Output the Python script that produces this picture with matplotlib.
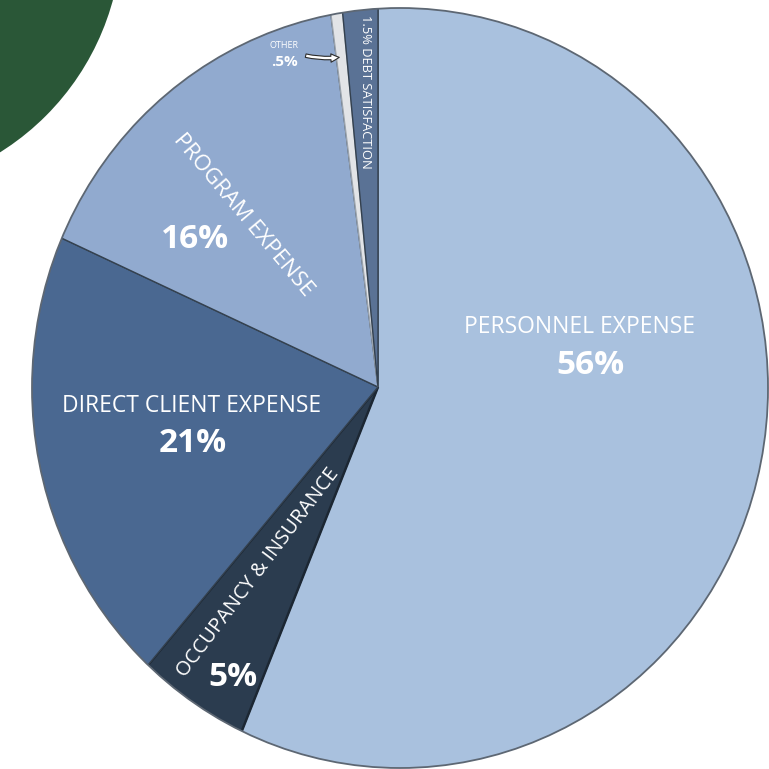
import numpy as np
import matplotlib.pyplot as plt
from matplotlib.patches import Ellipse, Circle

# Répartition des dépenses (%), dans le sens horaire depuis le haut
categories = ['Personnel Expense', 'Occupancy & Insurance', 'Direct Client Expense',
              'Program Expense', 'Other', 'Debt Satisfaction']
values = [56, 5, 21, 16, 0.5, 1.5]
pct_labels = ['56%', '5%', '21%', '16%', '.5%', '1.5%']
colors = ['#a9c1de', '#2b3c4f', '#4a6891', '#91aacf', '#e2e4e7', '#5a7295']

W = H = 769


def py(y):
    # pixel (haut -> bas) vers coordonnées données
    return H - y


fig = plt.figure(figsize=(7.69, 7.69), dpi=100)
ax = fig.add_axes([0, 0, 1, 1])

# Cercle vert décoratif dans le coin
ax.add_patch(Circle((-138, py(-68)), 260, facecolor='#2a5737', edgecolor='none', zorder=0))

wedges, _ = ax.pie(values, colors=colors, startangle=90, counterclock=False,
                   center=(378, py(387)), radius=430,
                   wedgeprops=dict(edgecolor='#34414f', linewidth=1.0))

# Contour elliptique du camembert (le sommet des parts n'est pas au centre)
clip = Ellipse((400, py(388)), 736, 760, facecolor='none', edgecolor='none')
ax.add_patch(clip)
for w in wedges:
    w.set_clip_on(True)
    w.set_clip_path(clip)
wedges[4].set_edgecolor('#9aa3ad')
wedges[1].set_edgecolor('#1c2733')
wedges[1].set_linewidth(1.8)

ax.add_patch(Ellipse((400, py(388)), 736, 760, facecolor='none',
                     edgecolor='#5d6773', linewidth=1.3, zorder=5))

ax.set_xlim(0, W)
ax.set_ylim(0, H)
ax.set_aspect('auto')
ax.axis('off')

txt = dict(color='white', ha='center', va='center', family=['Open Sans', 'DejaVu Sans'],
           rotation_mode='anchor')

# Personnel
ax.text(579, py(327), categories[0].upper(), fontsize=16.5, **txt)
ax.text(590, py(366), pct_labels[0], fontsize=24, fontweight='bold', **txt)

# Direct Client
ax.text(192, py(406), categories[2].upper(), fontsize=16.5, **txt)
ax.text(193, py(444), pct_labels[2], fontsize=24, fontweight='bold', **txt)

# Program
ax.text(243, py(215), categories[3].upper(), fontsize=16, rotation=-50, **txt)
ax.text(195, py(239), pct_labels[3], fontsize=24, fontweight='bold', **txt)

# Occupancy
ax.text(258, py(573), categories[1].upper(), fontsize=14.5, rotation=53, **txt)
ax.text(233, py(677), pct_labels[1], fontsize=24, fontweight='bold', **txt)

# Debt satisfaction (vertical)
ax.text(366, py(92), pct_labels[5] + ' ' + categories[5].upper(), fontsize=9.3,
        rotation=-90, **txt)

# Other + flèche
ax.text(284, py(45), categories[4].upper(), fontsize=6.5, **txt)
ax.text(284, py(62), pct_labels[4], fontsize=11, fontweight='bold', **txt)
ax.annotate('', xy=(342, py(57)), xytext=(303, py(55)),
            arrowprops=dict(arrowstyle='simple,head_length=0.6,head_width=0.6,tail_width=0.25',
                            facecolor='white', edgecolor='#2b2b2b', linewidth=0.8,
                            connectionstyle='arc3,rad=0.1'))

fig.savefig('out.png', dpi=100)
